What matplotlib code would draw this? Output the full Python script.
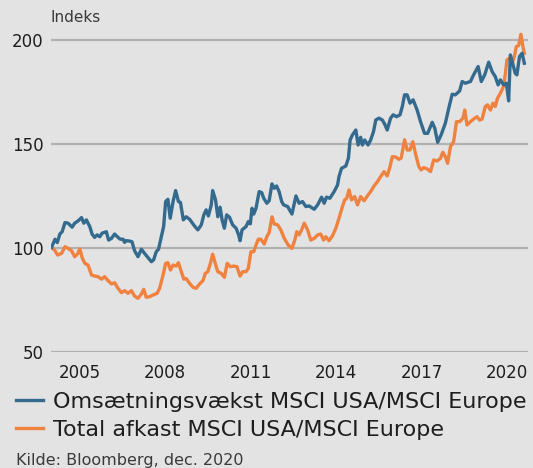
import matplotlib
matplotlib.use("Agg")
import matplotlib.pyplot as plt

# Omsætningsvækst MSCI USA/MSCI Europe (indeks), decimal years
blue_t = [2004.02, 2004.14, 2004.22, 2004.31, 2004.39, 2004.49, 2004.60, 2004.74, 2004.83, 2004.95,
          2005.07, 2005.15, 2005.24, 2005.36, 2005.44, 2005.53, 2005.62, 2005.71, 2005.79, 2005.94,
          2006.02, 2006.12, 2006.23, 2006.35, 2006.43, 2006.53, 2006.58, 2006.64, 2006.76, 2006.84,
          2006.93, 2007.05, 2007.17, 2007.28, 2007.40, 2007.52, 2007.60, 2007.69, 2007.77, 2007.87,
          2007.95, 2008.02, 2008.10, 2008.18, 2008.28, 2008.37, 2008.47, 2008.54, 2008.64, 2008.74,
          2008.86, 2009.03, 2009.15, 2009.27, 2009.36, 2009.44, 2009.52, 2009.62, 2009.67, 2009.77,
          2009.85, 2009.93, 2010.00, 2010.08, 2010.16, 2010.26, 2010.37, 2010.49, 2010.58, 2010.63,
          2010.70, 2010.84, 2010.92, 2010.99, 2011.05, 2011.11, 2011.19, 2011.30, 2011.39, 2011.46,
          2011.57, 2011.65, 2011.75, 2011.83, 2011.91, 2012.00, 2012.09, 2012.16, 2012.30, 2012.45,
          2012.59, 2012.70, 2012.82, 2012.94, 2013.05, 2013.23, 2013.35, 2013.49, 2013.58, 2013.66,
          2013.78, 2013.93, 2014.05, 2014.10, 2014.19, 2014.34, 2014.43, 2014.49, 2014.57, 2014.69,
          2014.77, 2014.86, 2014.92, 2015.00, 2015.12, 2015.21, 2015.31, 2015.39, 2015.50, 2015.62,
          2015.70, 2015.79, 2015.91, 2016.00, 2016.12, 2016.24, 2016.32, 2016.40, 2016.49, 2016.59,
          2016.70, 2016.84, 2016.96, 2017.10, 2017.21, 2017.37, 2017.46, 2017.56, 2017.68, 2017.83,
          2017.95, 2018.07, 2018.18, 2018.33, 2018.42, 2018.53, 2018.71, 2018.82, 2018.98, 2019.09,
          2019.21, 2019.35, 2019.47, 2019.58, 2019.68, 2019.76, 2019.87, 2019.97, 2020.05, 2020.11,
          2020.19, 2020.28, 2020.34, 2020.43, 2020.52, 2020.60]
blue_v = [100.3, 104.2, 102.6, 106.7, 107.8, 112.2, 111.9, 110.0, 111.9, 113.0,
          114.6, 111.9, 113.5, 110.3, 106.7, 105.1, 106.3, 105.4, 107.1, 107.8,
          103.8, 104.6, 106.7, 105.1, 104.2, 104.2, 102.7, 103.5, 103.3, 103.0,
          98.7, 95.8, 99.4, 97.4, 95.4, 93.4, 94.3, 98.2, 99.4, 105.4,
          110.3, 122.3, 123.4, 114.3, 122.3, 127.6, 122.3, 121.9, 113.5, 115.0,
          113.8, 110.6, 108.7, 111.1, 115.9, 118.3, 115.4, 120.7, 127.6, 123.1,
          115.0, 119.6, 113.5, 109.5, 115.9, 114.8, 111.1, 109.5, 106.3, 103.5,
          108.7, 110.3, 112.7, 111.6, 119.1, 116.3, 119.1, 127.1, 126.6, 123.9,
          121.5, 122.7, 130.8, 128.7, 129.8, 127.1, 122.3, 120.7, 119.9, 116.3,
          125.0, 121.5, 122.3, 119.9, 120.2, 118.6, 120.7, 124.4, 121.5, 124.4,
          123.9, 127.1, 130.3, 134.3, 138.3, 139.4, 143.1, 151.9, 154.3, 156.7,
          149.5, 153.2, 149.5, 151.9, 149.5, 151.9, 155.9, 161.5, 162.4, 161.5,
          159.6, 156.7, 162.4, 164.0, 163.1, 164.0, 168.0, 173.6, 173.6, 169.6,
          171.2, 166.3, 160.7, 155.1, 155.1, 160.4, 157.5, 150.8, 154.3, 160.0,
          167.2, 173.9, 173.6, 175.5, 180.0, 179.2, 180.0, 183.2, 187.2, 180.0,
          183.2, 189.3, 184.8, 182.4, 178.4, 180.8, 178.4, 179.2, 170.7, 192.8,
          188.8, 184.0, 183.2, 192.0, 193.6, 188.8]

# Total afkast MSCI USA/MSCI Europe (indeks)
orange_t = [2004.02, 2004.14, 2004.23, 2004.37, 2004.49, 2004.60, 2004.72, 2004.83, 2004.93, 2005.01,
            2005.10, 2005.19, 2005.30, 2005.42, 2005.53, 2005.65, 2005.77, 2005.88, 2006.00, 2006.12,
            2006.23, 2006.35, 2006.47, 2006.58, 2006.70, 2006.82, 2006.93, 2007.05, 2007.17, 2007.25,
            2007.34, 2007.46, 2007.58, 2007.72, 2007.81, 2007.93, 2008.02, 2008.10, 2008.19, 2008.28,
            2008.39, 2008.47, 2008.57, 2008.66, 2008.74, 2008.86, 2008.98, 2009.09, 2009.21, 2009.33,
            2009.41, 2009.50, 2009.59, 2009.67, 2009.76, 2009.85, 2009.97, 2010.08, 2010.18, 2010.29,
            2010.41, 2010.52, 2010.63, 2010.72, 2010.84, 2010.92, 2011.01, 2011.11, 2011.19, 2011.27,
            2011.36, 2011.48, 2011.57, 2011.65, 2011.75, 2011.83, 2011.95, 2012.06, 2012.18, 2012.32,
            2012.45, 2012.55, 2012.62, 2012.70, 2012.79, 2012.88, 2013.00, 2013.11, 2013.23, 2013.35,
            2013.46, 2013.56, 2013.64, 2013.75, 2013.87, 2013.99, 2014.10, 2014.22, 2014.30, 2014.37,
            2014.45, 2014.54, 2014.65, 2014.75, 2014.86, 2014.98, 2015.12, 2015.21, 2015.33, 2015.45,
            2015.56, 2015.68, 2015.79, 2015.89, 2015.97, 2016.09, 2016.20, 2016.28, 2016.40, 2016.49,
            2016.59, 2016.69, 2016.78, 2016.90, 2016.98, 2017.07, 2017.19, 2017.31, 2017.42, 2017.54,
            2017.66, 2017.74, 2017.83, 2017.91, 2018.01, 2018.12, 2018.22, 2018.33, 2018.45, 2018.51,
            2018.59, 2018.71, 2018.82, 2018.94, 2019.03, 2019.12, 2019.23, 2019.31, 2019.41, 2019.50,
            2019.58, 2019.66, 2019.76, 2019.87, 2019.93, 2019.99, 2020.08, 2020.17, 2020.25, 2020.32,
            2020.40, 2020.48, 2020.55, 2020.60]
orange_v = [100.3, 98.7, 96.6, 97.4, 100.6, 99.8, 98.7, 95.8, 97.1, 99.5,
            95.0, 92.6, 91.8, 87.0, 86.5, 86.2, 85.0, 86.2, 84.3, 82.7,
            83.3, 80.6, 78.5, 79.5, 78.2, 79.5, 76.9, 75.8, 77.9, 80.1,
            76.3, 76.6, 77.4, 78.2, 80.6, 87.0, 92.6, 92.9, 89.4, 91.8,
            91.3, 92.9, 88.6, 85.0, 85.3, 83.0, 81.1, 80.6, 82.7, 84.3,
            87.8, 88.6, 92.6, 97.0, 92.6, 88.6, 87.8, 85.9, 92.6, 91.0,
            91.3, 91.0, 86.5, 88.6, 88.6, 90.2, 98.2, 98.2, 101.4, 104.2,
            104.2, 101.9, 105.4, 107.4, 115.0, 111.5, 111.1, 108.7, 104.6, 101.4,
            99.8, 103.8, 107.8, 106.3, 108.7, 111.9, 108.7, 103.8, 104.6, 106.3,
            106.7, 103.8, 105.4, 103.5, 105.8, 109.5, 114.3, 119.9, 123.1, 123.9,
            127.9, 123.1, 124.7, 120.7, 124.7, 122.7, 125.5, 127.1, 129.8, 131.9,
            134.3, 136.7, 134.6, 139.1, 143.9, 143.7, 142.6, 143.2, 152.0, 147.1,
            147.1, 151.1, 145.5, 139.1, 137.5, 138.6, 138.0, 136.7, 142.3, 141.8,
            143.1, 146.0, 143.9, 140.7, 148.7, 151.1, 160.7, 160.7, 162.4, 166.3,
            159.1, 160.7, 162.0, 163.1, 161.5, 162.0, 168.0, 168.8, 166.3, 169.6,
            168.0, 172.0, 174.4, 177.6, 183.2, 190.4, 191.2, 188.8, 192.0, 196.8,
            197.3, 202.7, 196.8, 193.6]

year_ticks = [2005, 2008, 2011, 2014, 2017, 2020]
y_ticks = [50, 100, 150, 200]

bg = "#e3e3e3"
blue = "#336a8e"
orange = "#f08240"
txt = "#1e1e1e"
font = "DejaVu Sans"

fig = plt.figure(figsize=(5.33, 4.68), dpi=100, facecolor=bg)
ax = fig.add_axes([0.0957, 0.2479, 0.895, 0.689], facecolor=bg)

for y in y_ticks:
    ax.axhline(y, color="#b2b2b2", lw=1.6, zorder=1)

ax.plot(blue_t, blue_v, color=blue, lw=2.4, zorder=3,
        label="Omsætningsvækst MSCI USA/MSCI Europe", solid_joinstyle="round")
ax.plot(orange_t, orange_v, color=orange, lw=2.4, zorder=2,
        label="Total afkast MSCI USA/MSCI Europe", solid_joinstyle="round")

ax.set_xlim(2004.0, 2020.73)
ax.set_ylim(50, 205)
ax.set_xticks(year_ticks)
ax.set_xticklabels([str(y) for y in year_ticks])
ax.set_yticks(y_ticks)
ax.tick_params(length=0, labelsize=12, colors=txt)
ax.tick_params(axis="x", pad=9)
ax.tick_params(axis="y", pad=5.5)
for s in ax.spines.values():
    s.set_visible(False)
for lab in ax.get_xticklabels() + ax.get_yticklabels():
    lab.set_family(font)

fig.text(51 / 533, 1 - 18 / 468, "Indeks", fontsize=11, color="#3a3a3a",
         family=font, va="center", ha="left")

leg = fig.legend(loc="upper left", bbox_to_anchor=(0.03, 1 - 392 / 468), frameon=False,
                 prop={"family": font, "size": 16}, handlelength=1.2,
                 handletextpad=0.48, labelspacing=0.36, borderaxespad=0, borderpad=0,
                 labelcolor=txt)

fig.text(16 / 533, 1 - 460 / 468, "Kilde: Bloomberg, dec. 2020", fontsize=11.5,
         color="#3a3a3a", family=font, va="center", ha="left")

fig.savefig("out.png", dpi=100, facecolor=bg)
